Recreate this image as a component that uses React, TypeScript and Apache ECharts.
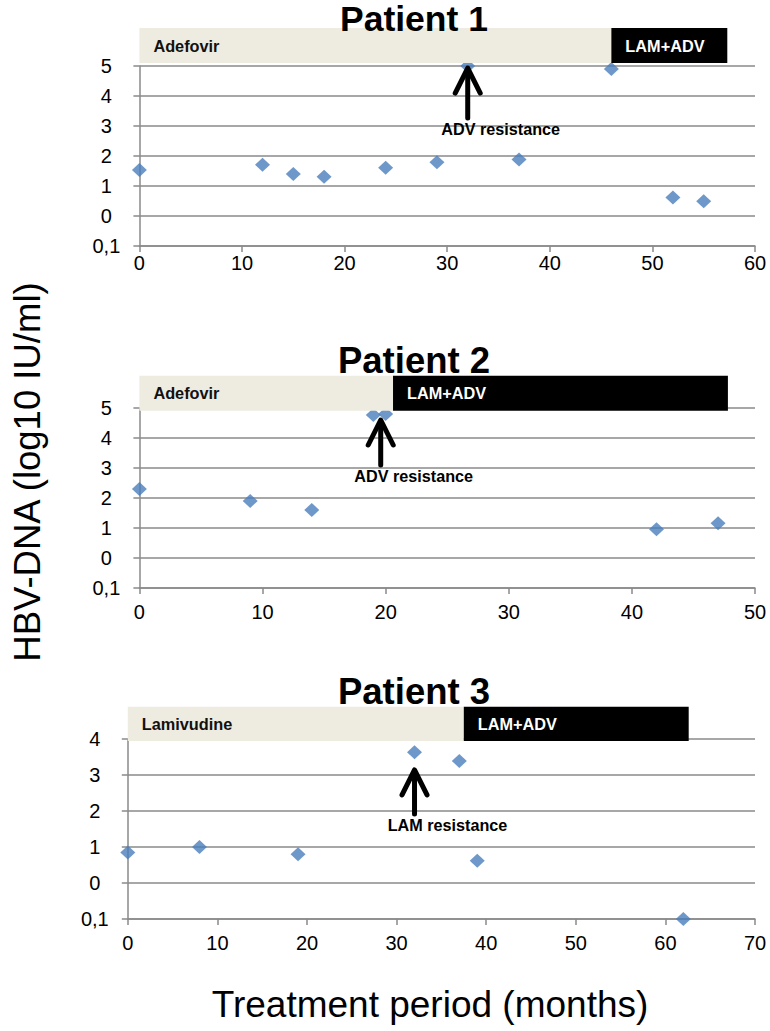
import React, { useEffect, useRef } from "react";
import * as echarts from "echarts";

// y axis positions -1..5 carry these tick labels (the bottom line is labelled "0,1")
const yTickLabels = ["0,1", "0", "1", "2", "3", "4", "5"];

// Patient 1
const p1Months = [0, 12, 15, 18, 24, 29, 32, 37, 46, 52, 55];
const p1Dna = [1.53, 1.71, 1.4, 1.31, 1.61, 1.79, 5.0, 1.88, 4.9, 0.62, 0.49];
const p1PhaseStart = [0, 46];
const p1PhaseEnd = [46, 57.3];
const p1PhaseDrug = ["Adefovir", "LAM+ADV"];

// Patient 2
const p2Months = [0, 9, 14, 19, 20, 42, 47];
const p2Dna = [2.3, 1.9, 1.6, 4.77, 4.8, 0.96, 1.16];
const p2PhaseStart = [0, 20.6];
const p2PhaseEnd = [20.6, 47.8];
const p2PhaseDrug = ["Adefovir", "LAM+ADV"];

// Patient 3
const p3Months = [0, 8, 19, 32, 37, 39, 62];
const p3Dna = [0.85, 1.0, 0.8, 3.63, 3.39, 0.62, -1];
const p3PhaseStart = [0, 37.5];
const p3PhaseEnd = [37.5, 62.6];
const p3PhaseDrug = ["Lamivudine", "LAM+ADV"];

const patientTitles = ["Patient 1", "Patient 2", "Patient 3"];
const xMaxMonths = [60, 50, 70];
const yMaxLevel = [5, 5, 4];
const resistanceLabel = ["ADV resistance", "ADV resistance", "LAM resistance"];
const resistanceMonth = [32, 19.6, 32];
const arrowTipLevel = [4.93, 4.6, 3.14];
const arrowTailLevel = [3.27, 3.1, 1.92];

const yAxisTitle = "HBV-DNA (log10 IU/ml)";
const xAxisTitle = "Treatment period (months)";

const FONT = "'Liberation Sans', Arial, Helvetica, sans-serif";
const GRID_COLOR = "#8a8a8a";

const layout = [
  { left: 139.4, top: 66, width: 615.6, height: 180, bandTop: -38, bandBottom: -3, xLabelMargin: 7, titleY: 18.5, titleSize: 35.5 },
  { left: 139.4, top: 408, width: 615.6, height: 180, bandTop: -32.3, bandBottom: 2.7, xLabelMargin: 14, titleY: 360.5, titleSize: 36.5 },
  { left: 127.8, top: 739, width: 627.2, height: 180, bandTop: -32.3, bandBottom: 2, xLabelMargin: 14, titleY: 691.5, titleSize: 36.5 },
];

const months = [p1Months, p2Months, p3Months];
const dna = [p1Dna, p2Dna, p3Dna];
const phaseStart = [p1PhaseStart, p2PhaseStart, p3PhaseStart];
const phaseEnd = [p1PhaseEnd, p2PhaseEnd, p3PhaseEnd];
const phaseDrug = [p1PhaseDrug, p2PhaseDrug, p3PhaseDrug];

function buildOption() {
  const grid: any[] = [];
  const xAxis: any[] = [];
  const yAxis: any[] = [];
  const series: any[] = [];
  const graphic: any[] = [];

  for (let k = 0; k < 3; k++) {
    const L = layout[k];
    grid.push({ left: L.left, top: L.top, width: L.width, height: L.height, containLabel: false });
    xAxis.push({
      type: "value",
      gridIndex: k,
      min: 0,
      max: xMaxMonths[k],
      interval: 10,
      axisLine: { show: true, onZero: false, lineStyle: { color: GRID_COLOR, width: 1.5 } },
      axisTick: { show: true, length: 6, lineStyle: { color: GRID_COLOR, width: 1.5 } },
      axisLabel: { color: "#000", fontSize: 20, fontFamily: FONT, margin: L.xLabelMargin },
      splitLine: { show: false },
    });
    yAxis.push({
      type: "value",
      gridIndex: k,
      min: -1,
      max: yMaxLevel[k],
      interval: 1,
      axisLine: { show: true, onZero: false, lineStyle: { color: GRID_COLOR, width: 1.5 } },
      axisTick: { show: true, length: 6, lineStyle: { color: GRID_COLOR, width: 1.5 } },
      axisLabel: {
        color: "#000",
        fontSize: 20,
        fontFamily: FONT,
        align: "center",
        margin: 33,
        formatter: (v: number) => yTickLabels[Math.round(v) + 1] ?? "",
      },
      splitLine: { show: true, lineStyle: { color: GRID_COLOR, width: 1.5 } },
    });

    series.push({
      type: "scatter",
      xAxisIndex: k,
      yAxisIndex: k,
      z: 2,
      symbol: "diamond",
      symbolSize: [15, 14],
      itemStyle: { color: "#4a7ebb" },
      data: months[k].map((m, i) => [m, dna[k][i]]),
    });

    const top = yMaxLevel[k];
    series.push({
      type: "custom",
      xAxisIndex: k,
      yAxisIndex: k,
      z: 3,
      clip: false,
      silent: true,
      data: phaseStart[k].map((s, i) => [s, phaseEnd[k][i]]),
      renderItem: (params: any, api: any) => {
        const s = api.value(0);
        const e = api.value(1);
        const gTop = api.coord([0, top])[1];
        const x0 = api.coord([s, top])[0];
        const x1 = api.coord([e, top])[0];
        const dark = params.dataIndex > 0;
        const yMid = gTop + (L.bandTop + L.bandBottom) / 2;
        return {
          type: "group",
          children: [
            {
              type: "rect",
              shape: { x: x0, y: gTop + L.bandTop, width: x1 - x0, height: L.bandBottom - L.bandTop },
              style: { fill: dark ? "#000000" : "#eeece1" },
            },
            {
              type: "text",
              x: x0 + 14,
              y: yMid,
              style: {
                text: phaseDrug[k][params.dataIndex],
                fill: dark ? "#ffffff" : "#111111",
                font: `bold 16.3px ${FONT}`,
                align: "left",
                verticalAlign: "middle",
                textAlign: "left",
                textVerticalAlign: "middle",
              },
            },
          ],
        };
      },
    });

    series.push({
      type: "custom",
      xAxisIndex: k,
      yAxisIndex: k,
      z: 4,
      clip: false,
      silent: true,
      data: [[resistanceMonth[k], arrowTipLevel[k], arrowTailLevel[k]]],
      renderItem: (params: any, api: any) => {
        const m = api.value(0);
        const tip = api.coord([m, api.value(1)]);
        const tailY = api.coord([m, api.value(2)])[1];
        const tx = tip[0];
        const ty = tip[1];
        return {
          type: "group",
          children: [
            {
              type: "line",
              shape: { x1: tx, y1: ty + 3, x2: tx, y2: tailY },
              style: { stroke: "#000", lineWidth: 5, lineCap: "round" },
            },
            {
              type: "polyline",
              shape: { points: [[tx - 12.5, ty + 25], [tx, ty], [tx + 12.5, ty + 25]] },
              style: { stroke: "#000", fill: null, lineWidth: 5, lineCap: "round", lineJoin: "round" },
            },
            {
              type: "text",
              x: tx + 33,
              y: tailY + 11,
              style: {
                text: resistanceLabel[k],
                fill: "#000",
                font: `bold 16.2px ${FONT}`,
                align: "center",
                verticalAlign: "middle",
                textAlign: "center",
                textVerticalAlign: "middle",
              },
            },
          ],
        };
      },
    });

    graphic.push({
      type: "text",
      x: 414,
      y: L.titleY,
      z: 10,
      style: {
        text: patientTitles[k],
        fill: "#000",
        font: `bold ${L.titleSize}px ${FONT}`,
        textAlign: "center",
        textVerticalAlign: "middle",
        align: "center",
        verticalAlign: "middle",
      },
    });
  }

  graphic.push({
    type: "text",
    x: 27,
    y: 472,
    rotation: Math.PI / 2,
    style: {
      text: yAxisTitle,
      fill: "#000",
      font: `36.5px ${FONT}`,
      textAlign: "center",
      textVerticalAlign: "middle",
      align: "center",
      verticalAlign: "middle",
    },
  });
  graphic.push({
    type: "text",
    x: 430,
    y: 1004,
    style: {
      text: xAxisTitle,
      fill: "#000",
      font: `37px ${FONT}`,
      textAlign: "center",
      textVerticalAlign: "middle",
      align: "center",
      verticalAlign: "middle",
    },
  });

  return {
    animation: false,
    backgroundColor: "#ffffff",
    textStyle: { fontFamily: FONT },
    grid,
    xAxis,
    yAxis,
    series,
    graphic,
  };
}

export default function App() {
  const ref = useRef<HTMLDivElement>(null);
  useEffect(() => {
    if (!ref.current) return;
    const chart = echarts.init(ref.current, undefined, { renderer: "svg" });
    chart.setOption(buildOption() as any);
    return () => chart.dispose();
  }, []);
  return (
    <div
      ref={ref}
      style={{ position: "fixed", left: 0, top: 0, width: 770, height: 1031, background: "#fff" }}
    />
  );
}
